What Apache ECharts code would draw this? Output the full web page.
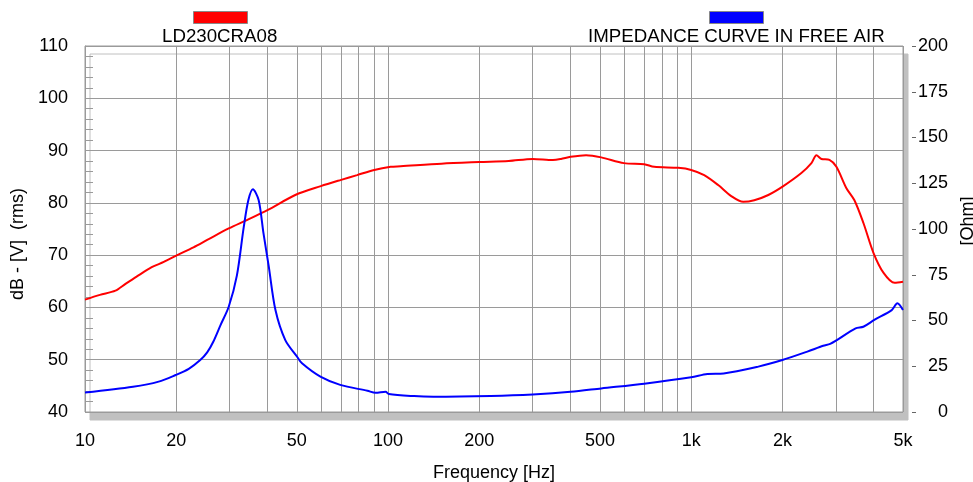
<!DOCTYPE html>
<html>
<head>
<meta charset="utf-8">
<script src="https://cdn.jsdelivr.net/npm/echarts@6/dist/echarts.min.js"></script>
<style>html,body{margin:0;padding:0;background:#fff}#c{width:973px;height:482px}</style>
</head>
<body>
<div id="c"></div>
<script>
// SPL curve (left axis, dB)
const splName = 'LD230CRA08';
const splFreq = [10, 11.2, 12.6, 13.6, 14.8, 16.6, 18.2, 20, 22.8, 25.3, 29.8, 34.2, 40, 49.4, 60, 70, 79, 90, 102, 110, 150, 200, 250, 300, 350, 372, 400, 450, 505, 600, 700, 755, 906, 1000, 1104, 1228, 1356, 1485, 1615, 1797, 2014, 2310, 2494, 2590, 2692, 2860, 3015, 3253, 3457, 3704, 3997, 4314, 4691, 5000];
const splDb = [61.5, 62.4, 63.2, 64.5, 65.9, 67.7, 68.7, 69.9, 71.5, 72.9, 75.1, 76.7, 78.6, 81.5, 83.2, 84.4, 85.3, 86.3, 86.9, 87.0, 87.5, 87.8, 88.0, 88.4, 88.2, 88.4, 88.8, 89.1, 88.7, 87.6, 87.4, 86.9, 86.7, 86.3, 85.3, 83.4, 81.3, 80.2, 80.5, 81.5, 83.2, 85.7, 87.6, 89.1, 88.4, 88.2, 86.9, 82.8, 80.5, 76.1, 70.4, 66.6, 64.7, 64.9];

// Impedance curve (right axis, Ohm)
const impName = 'IMPEDANCE CURVE IN FREE AIR';
const impFreq = [10, 14.4, 17.5, 19.9, 22, 24, 25.3, 26.5, 28, 29.8, 31.7, 33.4, 34.6, 35.8, 37.4, 38.8, 40.4, 42.5, 45.8, 50.1, 52, 59.8, 69.5, 85.5, 90.9, 98.1, 100.6, 121.8, 141, 218, 300, 400, 505, 700, 1000, 1131, 1280, 1666, 2000, 2417, 2727, 2875, 3025, 3488, 3700, 4020, 4590, 4790, 5000];
const impOhm = [10.6, 13.8, 16.6, 20.2, 23.6, 28.4, 32.6, 38.4, 47.5, 57.5, 74.5, 101, 115.8, 121.7, 115.8, 97.7, 79.4, 55.7, 39.3, 30.2, 26.6, 19.3, 14.8, 11.6, 10.5, 11.1, 9.8, 8.7, 8.4, 8.8, 9.6, 11.0, 12.9, 15.5, 19.0, 20.8, 21.1, 24.8, 28.4, 33.0, 36.2, 37.2, 39.3, 45.7, 46.6, 50.3, 55.7, 59.4, 55.7];

// Axis ticks
const xGridFreqs = [10, 20, 30, 40, 50, 60, 70, 80, 90, 100, 200, 300, 400, 500, 600, 700, 800, 900, 1000, 2000, 3000, 4000, 5000];
const xLabelFreqs = [10, 20, 50, 100, 200, 500, 1000, 2000, 5000];
const xLabelTexts = ['10', '20', '50', '100', '200', '500', '1k', '2k', '5k'];

const FONT = 'Liberation Sans, Arial, sans-serif';
const GRID = '#9a9a9a';
const FS = 18;

const chart = echarts.init(document.getElementById('c'));
const pair = (xs, ys) => xs.map((x, i) => [x, ys[i]]);

chart.setOption({
  animation: false,
  backgroundColor: '#fff',
  textStyle: { fontFamily: FONT },
  grid: {
    left: 85, right: 70, top: 46, bottom: 70, outerBoundsMode: 'none', containLabel: false,
    show: true, backgroundColor: '#fff', borderColor: GRID, borderWidth: 1,
    shadowColor: '#c0c0c0', shadowOffsetX: 5, shadowOffsetY: 8, shadowBlur: 0
  },
  legend: [
    { data: [{ name: splName, icon: 'rect' }], left: 193, top: 11, padding: 0, itemWidth: 54, itemHeight: 12,
      formatter: () => '', selectedMode: false, itemStyle: { borderColor: '#888', borderWidth: 1 } },
    { data: [{ name: impName, icon: 'rect' }], left: 709, top: 11, padding: 0, itemWidth: 54, itemHeight: 12,
      formatter: () => '', selectedMode: false, itemStyle: { borderColor: '#888', borderWidth: 1 } }
  ],
  graphic: [
    { type: 'text', left: 162, top: 27, style: { text: splName, font: '18.7px ' + FONT, fill: '#000' } },
    { type: 'text', left: 588, top: 27, style: { text: impName, font: '18.7px ' + FONT, fill: '#000' } }
  ],
  xAxis: {
    type: 'log', logBase: 10, min: 10, max: 5000,
    name: 'Frequency [Hz]', nameLocation: 'middle', nameGap: 52,
    nameTextStyle: { fontSize: FS, color: '#000', fontFamily: FONT },
    axisLine: { show: false },
    axisTick: { show: false, customValues: xGridFreqs },
    axisLabel: {
      customValues: xLabelFreqs, fontSize: FS, color: '#000', margin: 20, fontFamily: FONT,
      formatter: v => { const i = xLabelFreqs.findIndex(f => Math.abs(f - v) < 1e-6 * f); return i >= 0 ? xLabelTexts[i] : ''; }
    },
    splitLine: { show: true, lineStyle: { color: GRID, width: 1 } },
    minorSplitLine: { show: false }
  },
  yAxis: [
    {
      type: 'value', min: 40, max: 110, interval: 10, position: 'left',
      name: 'dB - [V]  (rms)', nameLocation: 'middle', nameGap: 50, nameRotate: 90,
      nameTextStyle: { fontSize: FS, color: '#000', fontFamily: FONT, padding: [0, 30, 0, 0] },
      axisLine: { show: true, lineStyle: { color: GRID } },
      axisTick: { show: false },
      minorTick: { show: false },
      axisLabel: { fontSize: FS, color: '#000', margin: 17, fontFamily: FONT },
      splitLine: { show: true, lineStyle: { color: GRID, width: 1 } }
    },
    {
      type: 'value', min: 0, max: 200, interval: 25, position: 'right', offset: 9,
      name: '[Ohm]', nameLocation: 'middle', nameGap: 36, nameRotate: 90,
      nameTextStyle: { fontSize: FS, color: '#000', fontFamily: FONT, padding: [0, 0, 0, 16] },
      axisLine: { show: false },
      axisTick: { show: true, length: 4, lineStyle: { color: '#666' } },
      axisLabel: { fontSize: FS, color: '#000', margin: 36, align: 'right', fontFamily: FONT },
      splitLine: { show: false }
    },
    {
      // fine 2 dB tick marks inside the left edge
      type: 'value', min: 40, max: 110, interval: 2, position: 'left', offset: 0,
      axisLine: { show: false },
      axisTick: { show: true, inside: true, length: 8, lineStyle: { color: GRID } },
      axisLabel: { show: false },
      splitLine: { show: false }
    }
  ],
  series: [
    {
      name: splName, type: 'line', yAxisIndex: 0, data: pair(splFreq, splDb),
      showSymbol: false, smooth: 0.3, lineStyle: { color: '#ff0000', width: 2 }, itemStyle: { color: '#ff0000' }, z: 3
    },
    {
      name: impName, type: 'line', yAxisIndex: 1, data: pair(impFreq, impOhm),
      showSymbol: false, smooth: 0.3, lineStyle: { color: '#0000ff', width: 2 }, itemStyle: { color: '#0000ff' }, z: 4
    }
  ]
});
</script>
</body>
</html>
